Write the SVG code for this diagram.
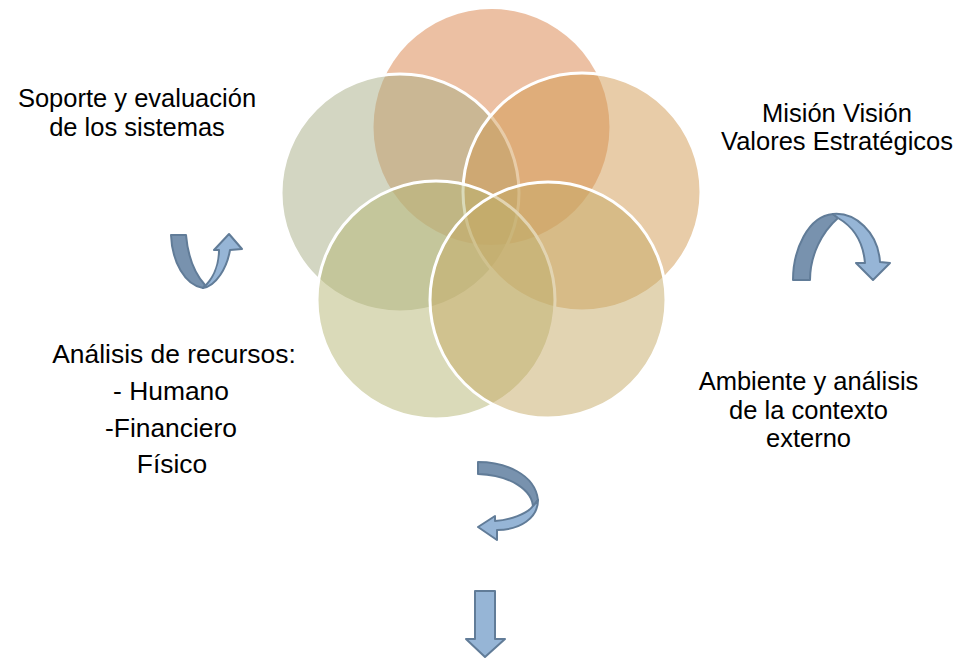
<svg xmlns="http://www.w3.org/2000/svg" width="968" height="660" viewBox="0 0 968 660">
<style>
  .c { fill-opacity: 0.5; stroke: #ffffff; stroke-width: 3; }
  .t { font-family: "Liberation Sans", Arial, sans-serif; font-size: 26.4px; fill: #000000; text-anchor: middle; }
  .t2 { font-size: 25.5px; }
  .dk { fill: #7892AE; stroke: #617C98; stroke-width: 2; stroke-linejoin: round; }
  .lt { fill: #96B5D6; stroke: #617C98; stroke-width: 2; stroke-linejoin: round; }
</style>
<rect width="968" height="660" fill="#ffffff"/>
<g id="circles">
  <circle id="c-top" cx="491.5" cy="127" r="118" fill="#D98147" fill-opacity="0.5"/>
  <circle id="c-left" class="c" cx="400" cy="193" r="119" fill="#A7AD85"/>
  <circle id="c-right" class="c" cx="582" cy="192" r="119" fill="#D19951"/>
  <circle id="c-bottom-left" class="c" cx="436" cy="300" r="119" fill="#B5B573"/>
  <circle id="c-bottom-right" class="c" cx="548" cy="300" r="118" fill="#C5A965"/>
</g>
<g id="label-soporte">
  <text class="t t2" x="137" y="107">Soporte y evaluación</text>
  <text class="t t2" x="137" y="135.5">de los sistemas</text>
</g>
<g id="label-mision">
  <text class="t t2" x="837" y="121.5">Misión Visión</text>
  <text class="t t2" x="837" y="150">Valores Estratégicos</text>
</g>
<g id="label-ambiente">
  <text class="t t2" x="808.5" y="390">Ambiente y análisis</text>
  <text class="t t2" x="808.5" y="418.5">de la contexto</text>
  <text class="t t2" x="808.5" y="447">externo</text>
</g>
<g id="label-analisis">
  <text class="t" x="174" y="363">Análisis de recursos:</text>
  <text class="t" x="171" y="400">- Humano</text>
  <text class="t" x="171" y="437">-Financiero</text>
  <text class="t" x="172" y="473">Físico</text>
</g>
<g id="connectors">
  <g id="arrow-left">
    <path class="dk" d="M171,235 L186,235 C188,258 196,275 205,285 L203,288 C185,285 172,262 171,235 Z"/>
    <path class="lt" d="M203,288 C216,286 227,268 230,250 L242,249 L229,234 L214,250 L219,250 C219,265 213,279 203,288 Z"/>
  </g>
  <g id="arrow-right">
    <path class="dk" d="M793,280 C793,250 808,216 833,214 L838,218 C822,232 810,255 810,280 Z"/>
    <path class="lt" d="M833,214 C855,212 878,232 880,262 L890,263 L873,280 L856,263 L865,263 C863,240 852,226 838,218 Z"/>
  </g>
  <g id="arrow-bottom">
    <path class="dk" d="M478,462 C505,462 535,474 538,500 L533,508 C533,490 510,475 478,474 Z"/>
    <path class="lt" d="M538,500 C538,518 520,530 497,530 L497,540 L478,527 L495,516 L495,521 C510,520 527,514 533,506 Z"/>
  </g>
  <g id="arrow-down">
    <path class="lt" d="M475,591 L495,591 L495,639 L505,639 L485,657 L466,639 L475,639 Z"/>
  </g>
</g>
</svg>
